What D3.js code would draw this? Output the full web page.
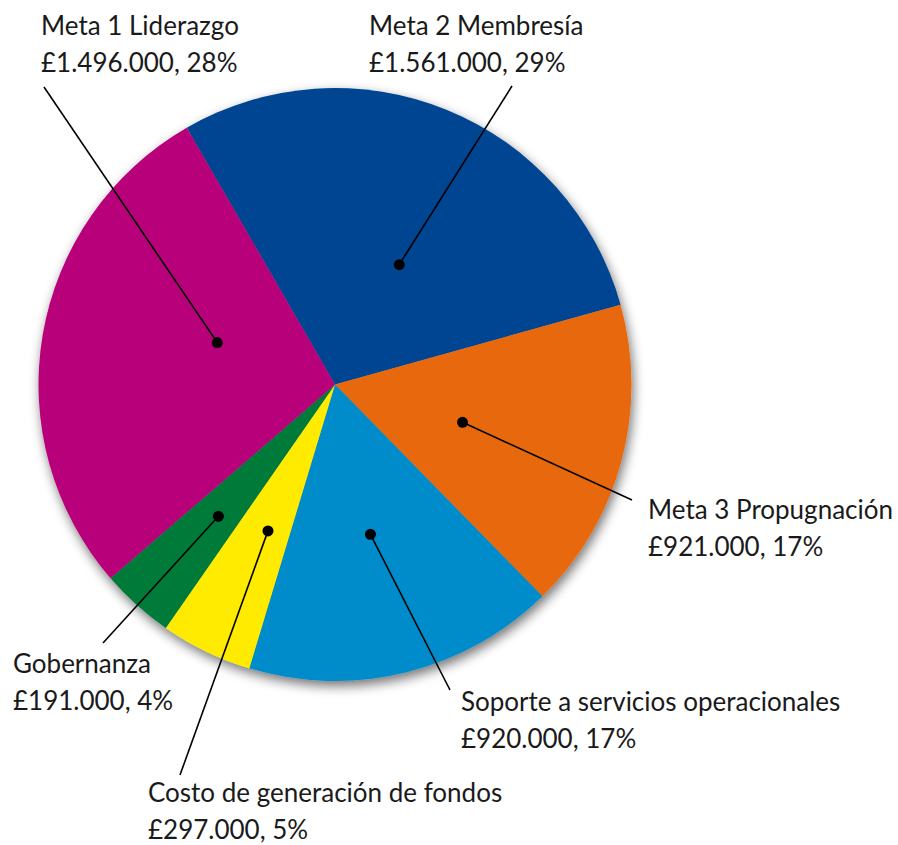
<!DOCTYPE html>
<html>
<head>
<meta charset="utf-8">
<script src="https://cdn.jsdelivr.net/npm/d3@7/dist/d3.min.js"></script>
<style>
  html, body { margin: 0; padding: 0; background: #ffffff; }
  svg { display: block; }
  text { font-family: Lato, "Open Sans", sans-serif; font-size: 26px; fill: #1a1a1a; }
</style>
</head>
<body>
<svg id="chart" width="898" height="845"></svg>
<script>
// ---- data ----
const categories = ["Meta 2 Membresía", "Meta 3 Propugnación", "Soporte a servicios operacionales",
                    "Costo de generación de fondos", "Gobernanza", "Meta 1 Liderazgo"];
const amounts = ["£1.561.000", "£921.000", "£920.000", "£297.000", "£191.000", "£1.496.000"];
const percents = [29, 17, 17, 5, 4, 28];
const colors = ["#004592", "#E8690E", "#008BCA", "#FFEB00", "#007A37", "#B8007A"];

// ---- layout (not data) ----
const cx = 335, cy = 384.5, R = 296.5;
// dot placement: radius + angle offset (deg) relative to slice mid-angle
const dotLayout = [
  {r: 136, da: 6},
  {r: 133, da: 1.5},
  {r: 154, da: 0.5},
  {r: 161, da: -1.2},
  {r: 176, da: -0.5},
  {r: 125, da: 10}
];
const labelLayout = [
  {x: 369, y: 35,  lx: 512, ly: 86},
  {x: 648, y: 519, lx: 632, ly: 500},
  {x: 461, y: 711, lx: 450, ly: 690},
  {x: 148, y: 802, lx: 180, ly: 775},
  {x: 13,  y: 673, lx: 103, ly: 643},
  {x: 41,  y: 35,  lx: 44,  ly: 87}
];
const lineGap = 37;

const svg = d3.select("#chart");
const defs = svg.append("defs");
const filt = defs.append("filter").attr("id", "shadow")
  .attr("x", "-20%").attr("y", "-20%").attr("width", "140%").attr("height", "140%");
filt.append("feGaussianBlur").attr("in", "SourceAlpha").attr("stdDeviation", 6).attr("result", "blur");
filt.append("feOffset").attr("in", "blur").attr("dx", 2).attr("dy", 5).attr("result", "off");
filt.append("feComponentTransfer").attr("in", "off").attr("result", "sh")
  .append("feFuncA").attr("type", "linear").attr("slope", 0.55);
const merge = filt.append("feMerge");
merge.append("feMergeNode").attr("in", "sh");
merge.append("feMergeNode").attr("in", "SourceGraphic");

const data = categories.map((c, i) => ({name: c, amount: amounts[i], pct: percents[i], color: colors[i], i}));

const pie = d3.pie().sort(null).value(d => d.pct)
  .startAngle(-30 * Math.PI / 180).endAngle(330 * Math.PI / 180);
const arcs = pie(data);
const arc = d3.arc().innerRadius(0).outerRadius(R);

const g = svg.append("g").attr("transform", `translate(${cx},${cy})`);
const pieG = g.append("g").attr("filter", "url(#shadow)");
pieG.selectAll("path").data(arcs).join("path")
  .attr("d", arc)
  .attr("fill", d => d.data.color);

// dots and leader lines
function dotPos(a) {
  const L = dotLayout[a.data.i];
  const ang = (a.startAngle + a.endAngle) / 2 + L.da * Math.PI / 180;
  return [cx + L.r * Math.sin(ang), cy - L.r * Math.cos(ang)];
}

const ann = svg.append("g");
arcs.forEach(a => {
  const p = dotPos(a);
  const L = labelLayout[a.data.i];
  ann.append("line")
    .attr("x1", p[0]).attr("y1", p[1])
    .attr("x2", L.lx).attr("y2", L.ly)
    .attr("stroke", "#000").attr("stroke-width", 1.6);
  ann.append("circle")
    .attr("cx", p[0]).attr("cy", p[1]).attr("r", 5.5)
    .attr("fill", "#000");
  const t = ann.append("text").attr("x", L.x).attr("y", L.y);
  t.append("tspan").attr("x", L.x).attr("y", L.y).text(a.data.name);
  t.append("tspan").attr("x", L.x).attr("y", L.y + lineGap).text(`${a.data.amount}, ${a.data.pct}%`);
});
</script>
</body>
</html>
